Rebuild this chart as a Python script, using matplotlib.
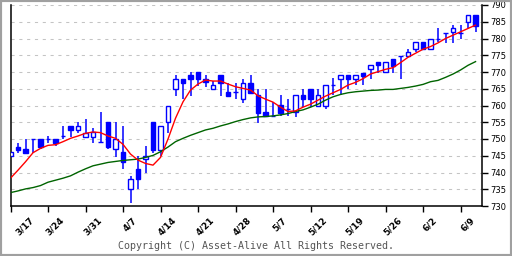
import matplotlib
matplotlib.use("Agg")
import matplotlib.pyplot as plt
import matplotlib.transforms as mtransforms
from matplotlib.patches import Rectangle

# daily candles
opens = [744.8, 747.7, 747.0, 749.9, 749.9, 749.9, 749.9, 750.9, 753.9, 752.8,
         750.7, 750.7, 749.0, 755.1, 746.9, 746.1, 735.0, 741.0, 743.9, 755.1,
         746.7, 755.0, 764.8, 767.8, 769.1, 770.1, 767.9, 764.8, 769.0, 763.9,
         763.9, 761.9, 766.8, 763.1, 758.1, 756.9, 760.0, 758.9, 758.1, 763.1,
         764.8, 759.9, 759.9, 766.1, 767.8, 769.1, 767.8, 769.8, 770.8, 773.0,
         770.0, 773.8, 774.9, 774.9, 776.8, 778.9, 776.8, 779.8, 781.7, 781.8,
         781.7, 784.8, 787.0]
highs = [746.1, 748.9, 749.9, 749.9, 749.9, 750.9, 749.9, 753.9, 753.9, 755.0,
         756.0, 753.2, 758.1, 755.1, 755.1, 753.9, 739.0, 744.9, 747.9, 755.1,
         753.9, 759.9, 769.1, 767.8, 770.1, 770.1, 769.0, 767.4, 769.0, 766.8,
         766.8, 767.8, 769.0, 764.8, 764.8, 761.1, 763.1, 761.9, 763.1, 764.8,
         764.8, 764.8, 766.0, 768.1, 769.1, 769.1, 769.1, 769.8, 772.0, 773.0,
         773.0, 773.8, 774.9, 776.9, 778.9, 778.9, 779.8, 783.0, 781.7, 784.0,
         784.0, 787.0, 787.0]
lows = [744.8, 745.9, 745.9, 745.9, 746.9, 748.7, 747.9, 749.9, 750.7, 751.9,
        750.7, 748.9, 749.0, 746.9, 744.7, 741.0, 730.8, 735.0, 739.8, 745.9,
        744.8, 751.9, 762.9, 761.9, 762.8, 765.8, 765.6, 764.8, 762.8, 762.9,
        761.9, 760.8, 763.8, 754.9, 756.9, 756.9, 756.9, 756.9, 756.7, 759.5,
        759.5, 759.9, 758.9, 763.1, 763.1, 764.8, 766.0, 766.1, 767.8, 769.8,
        770.0, 769.8, 767.8, 774.9, 775.9, 776.8, 776.8, 779.0, 778.8, 778.7,
        779.8, 783.0, 781.8]
closes = [746.1, 746.7, 745.9, 749.9, 747.7, 749.9, 748.7, 750.9, 752.8, 753.9,
          751.9, 752.2, 749.0, 747.7, 749.9, 743.1, 738.0, 738.0, 744.9, 746.7,
          753.9, 759.9, 767.8, 766.8, 767.8, 767.8, 766.9, 766.0, 766.8, 762.9,
          763.9, 766.8, 763.8, 757.8, 756.9, 756.9, 757.9, 758.9, 763.1, 761.9,
          761.9, 763.1, 766.0, 766.1, 769.1, 767.8, 769.1, 768.8, 772.0, 772.0,
          773.0, 771.8, 774.9, 775.9, 778.9, 776.8, 779.8, 779.8, 781.7, 783.0,
          781.7, 787.0, 783.8]

# moving averages
ma_short = [738.3, 740.7, 743.2, 745.9, 747.2, 748.1, 748.3, 749.2, 750.2, 750.9,
            751.7, 752.1, 751.9, 750.9, 750.2, 748.4, 745.5, 743.7, 742.7, 742.2,
            744.5, 750.0, 756.2, 761.1, 764.6, 766.4, 767.6, 767.3, 767.3, 766.4,
            765.6, 765.1, 764.6, 762.9, 761.9, 761.0, 759.5, 758.2, 758.4, 759.5,
            760.4, 761.6, 762.8, 763.8, 764.8, 766.1, 766.9, 768.0, 769.4, 770.1,
            770.8, 771.3, 772.8, 774.4, 775.6, 776.8, 777.6, 778.7, 780.0, 781.0,
            782.0, 783.0, 784.0]
ma_long = [734.0, 734.5, 735.1, 735.5, 736.1, 737.1, 737.7, 738.3, 739.0, 740.1,
           741.1, 742.0, 742.5, 743.0, 743.3, 743.6, 743.8, 744.0, 744.5, 745.1,
           746.2, 747.6, 749.2, 750.2, 751.1, 751.9, 752.7, 753.2, 753.9, 754.5,
           755.2, 755.8, 756.3, 756.6, 756.7, 756.9, 757.2, 757.6, 758.2, 758.7,
           759.5, 760.4, 761.6, 762.6, 763.3, 763.8, 764.1, 764.3, 764.5, 764.6,
           764.8, 764.8, 765.1, 765.4, 765.8, 766.3, 767.1, 767.5, 768.4, 769.4,
           770.6, 772.0, 773.1]

date_labels = ["3/17", "3/24", "3/31", "4/7", "4/14", "4/21", "4/28",
               "5/7", "5/12", "5/19", "5/26", "6/2", "6/9"]
yticks = list(range(730, 791, 5))

blue = "#0000ff"
xs = list(range(len(opens)))

fig = plt.figure(figsize=(5.12, 2.56), dpi=100)
ax = fig.add_axes([10.5 / 512, 1 - 206 / 256, (482.3 - 10.5) / 512, (206 - 5) / 256])

for y in yticks[1:]:
    ax.axhline(y, color="#c4c4c4", lw=0.75, ls=(0, (3, 4.5)), zorder=0)

# wicks then bodies
ax.vlines(xs, lows, highs, color=blue, lw=1.1, zorder=2)
body_bottom = [min(o, c) for o, c in zip(opens, closes)]
body_h = [abs(c - o) for o, c in zip(opens, closes)]
faces = ["white" if c >= o else blue for o, c in zip(opens, closes)]
ax.bar(xs, body_h, bottom=body_bottom, width=0.62, color=faces,
       edgecolor=blue, linewidth=1.0, zorder=3)

ax.plot(xs, ma_long, color="#006400", lw=1.0, zorder=4)
ax.plot(xs, ma_short, color="#ff0000", lw=1.0, zorder=5)

ax.set_xlim(0, 62.9)
ax.set_ylim(730, 790)

ax.spines["top"].set_visible(False)
for side in ["left", "right", "bottom"]:
    ax.spines[side].set_linewidth(1.1)
    ax.spines[side].set_color("black")

ax.yaxis.tick_right()
ax.set_yticks(yticks)
ax.set_yticklabels([str(v) for v in yticks], fontsize=6, family="DejaVu Sans")
ax.tick_params(axis="y", direction="out", length=4, width=1.0, pad=2)

ax.set_xticks(list(range(0, 5 * len(date_labels), 5)))
ax.set_xticklabels(date_labels, rotation=45, ha="center", va="top",
                   fontsize=6.3, fontweight="bold")
ax.tick_params(axis="x", direction="out", length=4, width=1.0, pad=3)
for i, lab in enumerate(ax.get_xticklabels()):
    dx = 14 if i == 0 else 7
    off = mtransforms.ScaledTranslation(dx / 100, 0, fig.dpi_scale_trans)
    lab.set_transform(lab.get_transform() + off)

fig.text(0.5, 1 - 246 / 256, "Copyright (C) Asset-Alive All Rights Reserved.",
         ha="center", va="center", family="DejaVu Sans Mono", fontsize=7.2,
         color="#555555")

fig.patches.append(Rectangle((0, 0), 1, 1, transform=fig.transFigure, fill=False,
                             edgecolor="#a0a0a0", lw=3))

fig.savefig("out.png", dpi=100)
